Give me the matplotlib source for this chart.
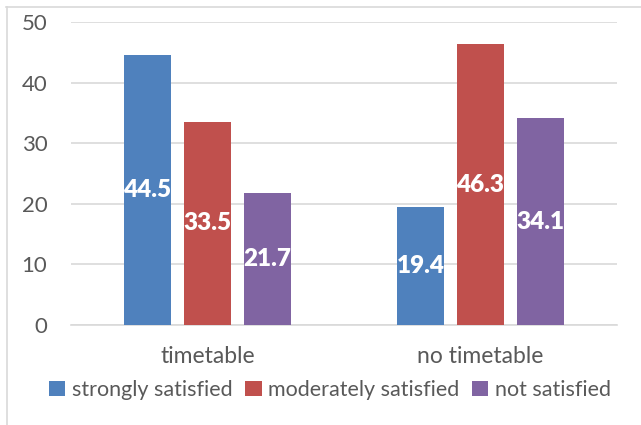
import matplotlib
matplotlib.use("Agg")
import matplotlib.pyplot as plt
from matplotlib.patches import Patch
from matplotlib.lines import Line2D
import numpy as np

categories = ["timetable", "no timetable"]
series_names = ["strongly satisfied", "moderately satisfied", "not satisfied"]
strongly = [44.5, 19.4]
moderately = [33.5, 46.3]
not_satisfied = [21.7, 34.1]
colors = ["#4F81BD", "#C0504D", "#8064A2"]
y_ticks = [0, 10, 20, 30, 40, 50]

plt.rcParams["font.family"] = ["Lato", "DejaVu Sans"]

W, H = 641, 425
fig = plt.figure(figsize=(W / 100, H / 100), dpi=100)
ax = fig.add_axes([71 / W, (H - 325) / H, 546 / W, 303 / H])

x = np.arange(len(categories))
bar_w = 0.172
step = 0.22
for i, (vals, name, c) in enumerate(zip([strongly, moderately, not_satisfied], series_names, colors)):
    bars = ax.bar(x + (i - 1) * step, vals, bar_w, color=c, label=name, zorder=3)
    ax.bar_label(bars, labels=[f"{v:.1f}" for v in vals], label_type="center",
                 color="white", fontweight="heavy", fontsize=17.5)

ax.set_xlim(-0.5, 1.5)
ax.set_ylim(0, 50)
ax.set_yticks(y_ticks)
ax.set_xticks(x)
ax.set_xticklabels(categories)
ax.grid(axis="y", color="#D9D9D9", linewidth=1.2, zorder=0)
for s in ["top", "right", "left"]:
    ax.spines[s].set_visible(False)
ax.spines["bottom"].set_color("#D9D9D9")
ax.spines["bottom"].set_linewidth(1.2)
ax.tick_params(axis="y", length=0, pad=17, labelsize=16, labelcolor="#595959")
ax.tick_params(axis="x", length=0, pad=15, labelsize=16.5, labelcolor="#595959")

handles = [Patch(facecolor=c, edgecolor="none") for c in colors]
fig.legend(handles, series_names, loc="center", bbox_to_anchor=(330 / W, (H - 390) / H),
           ncol=3, frameon=False, fontsize=15.5, labelcolor="#595959",
           handlelength=0.75, handleheight=0.75, handletextpad=0.3, columnspacing=0.6)

# chart frame edges
fig.add_artist(Line2D([6 / W, 1], [1 - 6.5 / H, 1 - 6.5 / H], color="#D9D9D9", lw=1.2))
fig.add_artist(Line2D([6.5 / W, 6.5 / W], [0, 1 - 6.5 / H], color="#D9D9D9", lw=1.2))

fig.savefig("out.png", dpi=100)
